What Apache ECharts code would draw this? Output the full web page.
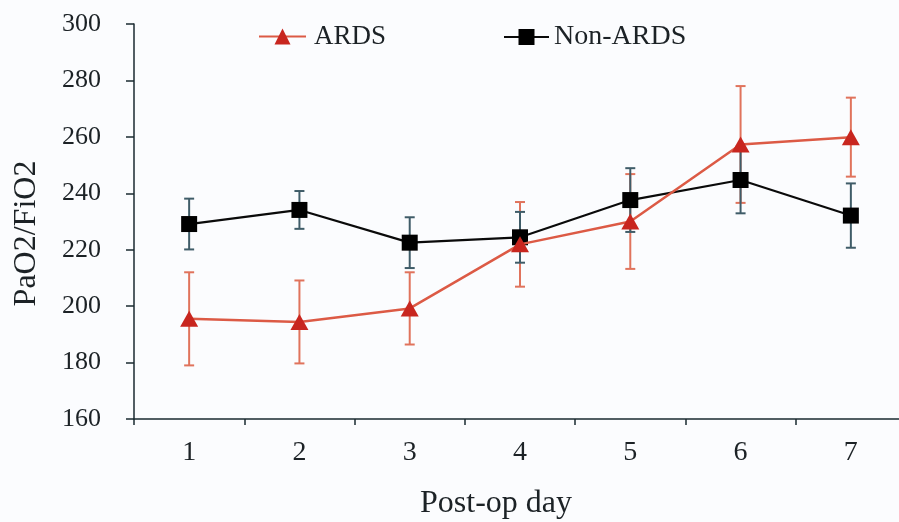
<!DOCTYPE html>
<html>
<head>
<meta charset="utf-8">
<script src="https://cdn.jsdelivr.net/npm/echarts@6/dist/echarts.min.js"></script>
<style>
html,body{margin:0;padding:0;background:#fbfcfe;}
#chart{width:899px;height:522px;}
</style>
</head>
<body>
<div id="chart"></div>
<script>
const categories = ['1', '2', '3', '4', '5', '6', '7'];
const ardsMean = [195.5, 194.4, 199.2, 221.9, 230.0, 257.3, 259.9];
const ardsSD = [16.5, 14.7, 12.8, 15.0, 16.8, 20.7, 14.0];
const nonMean = [229.1, 234.1, 222.5, 224.4, 237.6, 244.7, 232.1];
const nonSD = [9.0, 6.7, 9.0, 9.0, 11.3, 11.8, 11.4];
const yTicks = [160, 180, 200, 220, 240, 260, 280, 300];

const FONT = '"Liberation Serif", "DejaVu Serif", serif';
const TXT = '#1c2226';

function errData(mean, sd) {
  return mean.map((m, i) => [i, m - sd[i], m + sd[i]]);
}
function errRender(color) {
  return function (params, api) {
    const x = api.value(0);
    const lo = api.coord([x, api.value(1)]);
    const hi = api.coord([x, api.value(2)]);
    const w = 5;
    const st = { stroke: color, lineWidth: 2 };
    return {
      type: 'group',
      children: [
        { type: 'line', shape: { x1: lo[0], y1: lo[1], x2: hi[0], y2: hi[1] }, style: st },
        { type: 'line', shape: { x1: lo[0] - w, y1: lo[1], x2: lo[0] + w, y2: lo[1] }, style: st },
        { type: 'line', shape: { x1: hi[0] - w, y1: hi[1], x2: hi[0] + w, y2: hi[1] }, style: st }
      ]
    };
  };
}

const chart = echarts.init(document.getElementById('chart'), null, { renderer: 'canvas' });
const option = {
  backgroundColor: '#fbfcfe',
  animation: false,
  grid: { left: 134, top: 24, width: 772, height: 395, containLabel: false, outerBoundsMode: 'none' },
  legend: [
    {
      data: ['ARDS'], left: 258, top: 23, padding: 0, itemWidth: 47, itemHeight: 20, itemGap: 0,
      textStyle: { fontFamily: FONT, fontSize: 27, color: TXT, padding: [0, 0, 0, 3] }
    },
    {
      data: ['Non-ARDS'], left: 503, top: 23, padding: 0, itemWidth: 45, itemHeight: 20, itemGap: 0,
      textStyle: { fontFamily: FONT, fontSize: 28, color: TXT }
    }
  ],
  xAxis: {
    type: 'category',
    data: categories,
    boundaryGap: true,
    name: 'Post-op day',
    nameLocation: 'middle',
    nameGap: 69,
    nameTextStyle: { fontFamily: FONT, fontSize: 32, color: TXT, padding: [0, 48, 0, 0] },
    axisLine: { lineStyle: { color: '#1a2a30', width: 1.5 } },
    axisTick: { show: true, inside: false, length: 6, alignWithLabel: false, lineStyle: { color: '#1a2a30', width: 1.5 } },
    axisLabel: { fontFamily: FONT, fontSize: 28, color: TXT, margin: 20 },
    splitLine: { show: false }
  },
  yAxis: {
    type: 'value',
    min: yTicks[0],
    max: yTicks[yTicks.length - 1],
    interval: 20,
    name: 'PaO2/FiO2',
    nameLocation: 'middle',
    nameRotate: 90,
    nameGap: 91,
    nameTextStyle: { fontFamily: FONT, fontSize: 32, color: TXT, padding: [0, 24, 0, 0] },
    axisLine: { show: true, lineStyle: { color: '#1a2a30', width: 1.5 } },
    axisTick: { show: true, inside: false, length: 8, lineStyle: { color: '#1a2a30', width: 1.5 } },
    axisLabel: { fontFamily: FONT, fontSize: 26, color: TXT, margin: 33 },
    splitLine: { show: false }
  },
  series: [
    {
      name: 'ARDS-err', type: 'custom', renderItem: errRender('#e0735c'),
      data: errData(ardsMean, ardsSD), encode: { x: 0, y: [1, 2] }, z: 2, silent: true
    },
    {
      name: 'Non-ARDS-err', type: 'custom', renderItem: errRender('#3f5c68'),
      data: errData(nonMean, nonSD), encode: { x: 0, y: [1, 2] }, z: 2, silent: true
    },
    {
      name: 'Non-ARDS', type: 'line', data: nonMean,
      symbol: 'rect', symbolSize: 16,
      itemStyle: { color: '#000000' },
      lineStyle: { color: '#0a0a0a', width: 2.2 },
      z: 4
    },
    {
      name: 'ARDS', type: 'line', data: ardsMean,
      symbol: 'triangle', symbolSize: [18, 16],
      itemStyle: { color: '#c8261f' },
      lineStyle: { color: '#dc5a45', width: 2.5 },
      z: 5
    }
  ]
};
chart.setOption(option);
</script>
</body>
</html>
